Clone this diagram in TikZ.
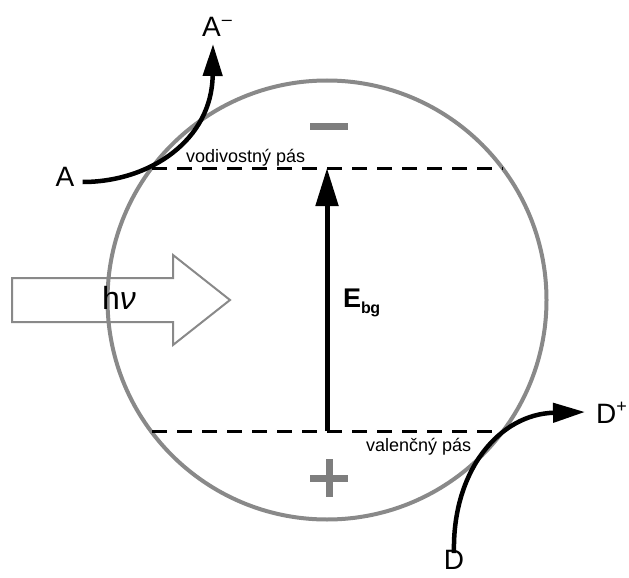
\documentclass[tikz,border=0pt]{standalone}
\usepackage{fontspec}
\setmainfont{Liberation Sans}
\usepackage{xcolor}
\usetikzlibrary{arrows.meta}
\definecolor{ringgray}{HTML}{898989}
\definecolor{signgray}{HTML}{7E7E7E}

\begin{document}
\begin{tikzpicture}[x=1pt, y=-1pt, >={Triangle[length=32pt,width=19pt]}]
    \tikzstyle{species}=[inner sep=0pt, font=\fontsize{28}{30}\selectfont]
    \tikzstyle{band}=[black, line width=3pt, dash pattern=on 15pt off 10pt]
    \tikzstyle{bandlabel}=[inner sep=0pt, font=\fontsize{18}{20}\selectfont]
    \tikzstyle{flow}=[->, line width=4.5pt]
    \tikzstyle{sign}=[signgray, line width=7pt]

    \useasboundingbox (0,0) rectangle (629,578);

    % semiconductor particle
    \node[circle, draw=ringgray, line width=4pt, minimum size=439pt, inner sep=0pt] (particle) at (327,300) {};

    % bands
    \coordinate (cbl) at (152,168);
    \coordinate (cbr) at (503,168);
    \coordinate (vbl) at (152,431);
    \coordinate (vbr) at (503,431);
    \draw[band] (cbl) -- (cbr);
    \draw[band] (vbl) -- (vbr);
    \node[bandlabel, anchor=base west] (cblabel) at (186,162) {vodivostný pás};
    \node[bandlabel, anchor=base west] (vblabel) at (366,451) {valenčný pás};

    % band gap
    \coordinate (gapbot) at (327,431);
    \coordinate (gaptop) at (327,168);
    \draw[->, line width=5pt, >={Triangle[length=38pt,width=22pt]}] (gapbot) -- (gaptop);
    \node[inner sep=0pt, anchor=base west, font=\fontsize{27}{30}\selectfont\bfseries] (Ebg) at (343,307)
        {E\raisebox{-6pt}{\fontsize{16}{18}\selectfont b\kern-0.5pt g}};

    % charges
    \draw[sign] (310,126.5) -- (348,126.5);
    \draw[sign] (310,478) -- (348,478);
    \draw[sign] (329,459) -- (329,497);

    % light
    \draw[ringgray, line width=2pt, line join=miter]
        (12,278) -- (173,278) -- (173,255) -- (230,300) -- (173,345) -- (173,322) -- (12,322) -- cycle;
    \node[inner sep=0pt, font=\fontsize{32}{34}\selectfont] (hv) at (119,298) {h\textit{ν}};

    % acceptor and donor
    \node[species] (A) at (65,177) {A};
    \node[species, anchor=base west] (Am) at (202,37) {A\raisebox{11pt}{\fontsize{18}{18}\selectfont \kern1pt–}};
    \node[species] (D) at (454,560) {D};
    \node[species, anchor=base west] (Dp) at (596,423) {D\raisebox{11pt}{\fontsize{18}{18}\selectfont +}};

    \draw[flow] ([xshift=8pt,yshift=-5pt]A.east) .. controls (150,182) and (212,140) .. (213,44);
    \draw[flow] ([yshift=-3pt]D.north) .. controls (452,470) and (500,414) .. (585,412);
\end{tikzpicture}
\end{document}
